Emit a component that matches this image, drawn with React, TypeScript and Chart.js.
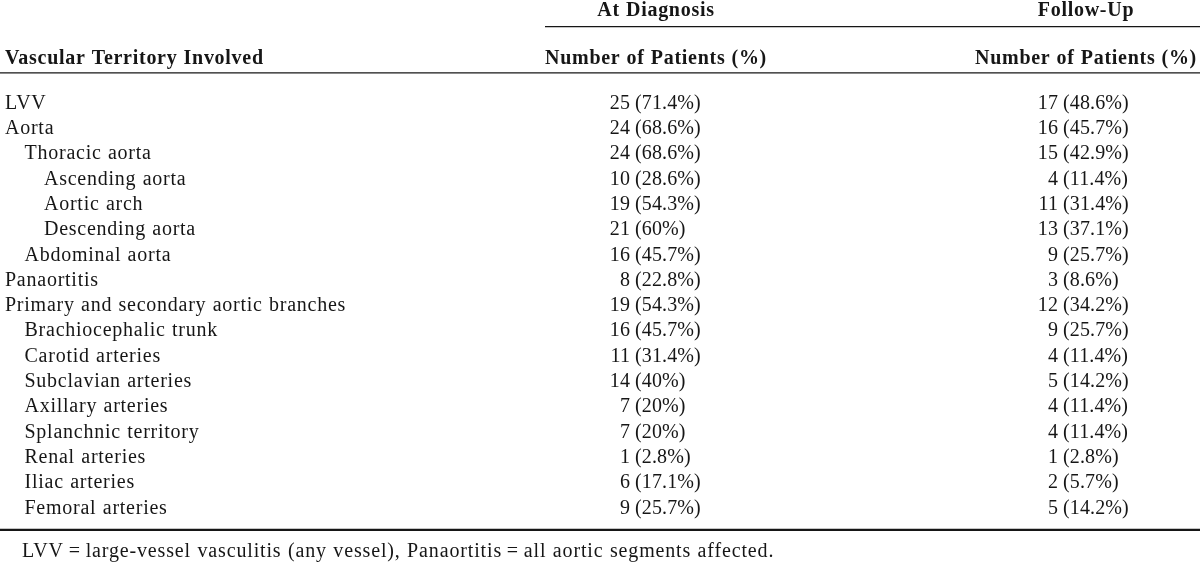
import React, { useEffect, useRef } from "react";
import { Chart, registerables } from "chart.js";

Chart.register(...registerables);

// ---- Data ----
const rowLabels = [
  "LVV",
  "Aorta",
  "Thoracic aorta",
  "Ascending aorta",
  "Aortic arch",
  "Descending aorta",
  "Abdominal aorta",
  "Panaortitis",
  "Primary and secondary aortic branches",
  "Brachiocephalic trunk",
  "Carotid arteries",
  "Subclavian arteries",
  "Axillary arteries",
  "Splanchnic territory",
  "Renal arteries",
  "Iliac arteries",
  "Femoral arteries",
];
const rowLevels = [0, 0, 1, 2, 2, 2, 1, 0, 0, 1, 1, 1, 1, 1, 1, 1, 1];
const diagnosisCounts = [25, 24, 24, 10, 19, 21, 16, 8, 19, 16, 11, 14, 7, 7, 1, 6, 9];
const diagnosisPercents = ["71.4", "68.6", "68.6", "28.6", "54.3", "60", "45.7", "22.8", "54.3", "45.7", "31.4", "40", "20", "20", "2.8", "17.1", "25.7"];
const followUpCounts = [17, 16, 15, 4, 11, 13, 9, 3, 12, 9, 4, 5, 4, 4, 1, 2, 5];
const followUpPercents = ["48.6", "45.7", "42.9", "11.4", "31.4", "37.1", "25.7", "8.6", "34.2", "25.7", "11.4", "14.2", "11.4", "11.4", "2.8", "5.7", "14.2"];

const groupHeaders = ["At Diagnosis", "Follow-Up"];
const columnHeaders = ["Vascular Territory Involved", "Number of Patients (%)", "Number of Patients (%)"];
const footnote = "LVV\u2009=\u2009large-vessel vasculitis (any vessel), Panaortitis\u2009=\u2009all aortic segments affected.";

// ---- Layout / style (not data) ----
const W = 1200;
const H = 562;
const FONT = "'Liberation Serif', 'Times New Roman', serif";
const FS = 20;
const INK = "#161616";
const LABEL_X = 5;
const INDENT = 19.5;
const DIAG_NUM_RIGHT = 630;
const FOLLOW_NUM_RIGHT = 1058;
const DIAG_HEADER_LEFT = 545;
const FOLLOW_HEADER_RIGHT = 1197;

const setSpacing = (ctx: any, letter: number, word: number) => {
  try {
    ctx.letterSpacing = `${letter}px`;
    ctx.wordSpacing = `${word}px`;
  } catch (e) {
    /* ignore */
  }
};

const tablePlugin = {
  id: "tableText",
  afterDatasetsDraw(chart: any) {
    const ctx = chart.ctx as CanvasRenderingContext2D;
    const ys = chart.scales.y;
    const xs = chart.scales.x;
    const base = (v: number) => ys.getPixelForValue(v) + FS * 0.33;
    ctx.save();
    ctx.fillStyle = INK;
    ctx.strokeStyle = INK;
    ctx.textBaseline = "alphabetic";

    const labelMeta = chart.getDatasetMeta(0);
    const diagMeta = chart.getDatasetMeta(1);
    const followMeta = chart.getDatasetMeta(2);

    // Row labels
    ctx.font = `${FS}px ${FONT}`;
    setSpacing(ctx, 0.75, 0.6);
    labelMeta.data.forEach((el: any, i: number) => {
      ctx.textAlign = "left";
      ctx.fillText(rowLabels[i], el.x + rowLevels[i] * INDENT, el.y + FS * 0.33);
    });

    // Value cells
    setSpacing(ctx, 0.1, 0);
    const drawCell = (el: any, n: number, p: string) => {
      const y = el.y + FS * 0.33;
      ctx.textAlign = "right";
      ctx.fillText(String(n), el.x, y);
      ctx.textAlign = "left";
      ctx.fillText(` (${p}%)`, el.x, y);
    };
    diagMeta.data.forEach((el: any, i: number) => drawCell(el, diagnosisCounts[i], diagnosisPercents[i]));
    followMeta.data.forEach((el: any, i: number) => drawCell(el, followUpCounts[i], followUpPercents[i]));

    // Headers
    ctx.font = `bold ${FS}px ${FONT}`;
    setSpacing(ctx, 0.72, 0.4);
    const diagW = ctx.measureText(columnHeaders[1]).width;
    const followW = ctx.measureText(columnHeaders[2]).width;
    const diagCenter = xs.getPixelForValue(DIAG_HEADER_LEFT) + diagW / 2;
    const followCenter = xs.getPixelForValue(FOLLOW_HEADER_RIGHT) - followW / 2;
    ctx.textAlign = "center";
    ctx.fillText(groupHeaders[0], diagCenter, base(-3.64));
    ctx.fillText(groupHeaders[1], followCenter, base(-3.64));
    ctx.textAlign = "left";
    ctx.fillText(columnHeaders[0], xs.getPixelForValue(LABEL_X), base(-1.78));
    ctx.fillText(columnHeaders[1], xs.getPixelForValue(DIAG_HEADER_LEFT), base(-1.78));
    ctx.textAlign = "right";
    ctx.fillText(columnHeaders[2], xs.getPixelForValue(FOLLOW_HEADER_RIGHT), base(-1.78));

    // Rules
    const rule = (v: number, x0: number, x1: number, lw: number) => {
      ctx.lineWidth = lw;
      ctx.beginPath();
      const y = ys.getPixelForValue(v);
      ctx.moveTo(xs.getPixelForValue(x0), y);
      ctx.lineTo(xs.getPixelForValue(x1), y);
      ctx.stroke();
    };
    rule(-2.98, DIAG_HEADER_LEFT, W, 1.3);
    rule(-1.15, 0, W, 1.3);
    rule(16.9, 0, W, 2.2);

    // Footnote
    ctx.font = `${FS}px ${FONT}`;
    setSpacing(ctx, 0.85, 0.6);
    ctx.textAlign = "left";
    ctx.fillText(footnote, xs.getPixelForValue(22), base(17.72));
    ctx.restore();
  },
};

export default function App() {
  const ref = useRef<HTMLCanvasElement | null>(null);
  useEffect(() => {
    document.body.style.margin = "0";
    document.body.style.background = "#ffffff";
    const canvas = ref.current!;
    const rows = rowLabels.map((_, i) => i);
    const chart = new Chart(canvas, {
      type: "scatter",
      data: {
        datasets: [
          { label: columnHeaders[0], data: rows.map((i) => ({ x: LABEL_X, y: i })), pointRadius: 0 },
          { label: groupHeaders[0], data: rows.map((i) => ({ x: DIAG_NUM_RIGHT, y: i })), pointRadius: 0 },
          { label: groupHeaders[1], data: rows.map((i) => ({ x: FOLLOW_NUM_RIGHT, y: i })), pointRadius: 0 },
        ],
      },
      options: {
        responsive: false,
        animation: false,
        layout: { padding: 0 },
        events: [],
        plugins: { legend: { display: false }, tooltip: { enabled: false } },
        scales: {
          x: { type: "linear", display: false, min: 0, max: W },
          y: { type: "linear", display: false, reverse: true, min: -4.03, max: 18.17 },
        },
      },
      plugins: [tablePlugin],
    });
    return () => chart.destroy();
  }, []);
  return <canvas ref={ref} width={W} height={H} style={{ display: "block", background: "#fff" }} />;
}
